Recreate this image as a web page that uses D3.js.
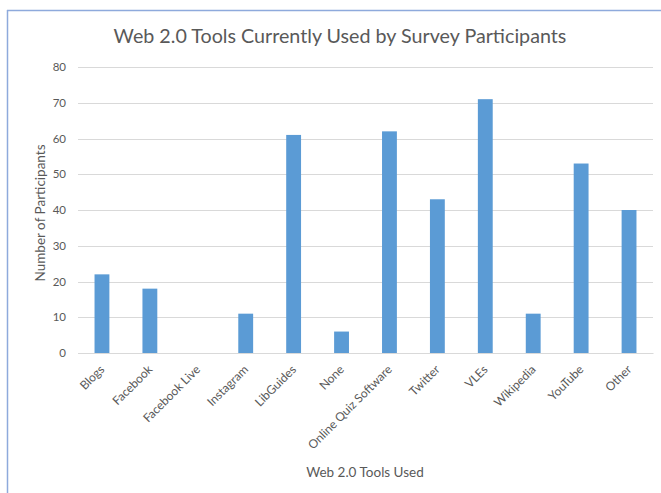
<!DOCTYPE html>
<html>
<head>
<meta charset="utf-8">
<script src="https://cdn.jsdelivr.net/npm/d3@7"></script>
<style>
  body { margin: 0; background: #fff; }
  text { font-family: Lato, "Liberation Sans", sans-serif; fill: #595959; }
</style>
</head>
<body>
<div id="chart"></div>
<script>
var svgWidth = 661;
var svgHeight = 493;

// data
var tools = ["Blogs", "Facebook", "Facebook Live", "Instagram", "LibGuides", "None",
  "Online Quiz Software", "Twitter", "VLEs", "Wikipedia", "YouTube", "Other"];
var participants = [22, 18, 0, 11, 61, 6, 62, 43, 71, 11, 53, 40];
var yTicks = [0, 10, 20, 30, 40, 50, 60, 70, 80];

var margin = { top: 67, right: 8, bottom: 140, left: 78 };
var width = svgWidth - margin.left - margin.right;
var height = svgHeight - margin.top - margin.bottom;

var svg = d3.select("#chart")
  .append("svg")
  .attr("width", svgWidth)
  .attr("height", svgHeight);

// frame lines (top and left of the chart box)
svg.append("line")
  .attr("x1", 7).attr("x2", svgWidth).attr("y1", 10.5).attr("y2", 10.5)
  .attr("stroke", "#8eaadc").attr("stroke-width", 1.5);
svg.append("line")
  .attr("x1", 7.5).attr("x2", 7.5).attr("y1", 10).attr("y2", svgHeight)
  .attr("stroke", "#8eaadc").attr("stroke-width", 1.5);

var chartGroup = svg.append("g")
  .attr("transform", `translate(${margin.left}, ${margin.top})`);

var data = tools.map((t, i) => ({ tool: t, value: participants[i] }));

var x = d3.scaleBand()
  .domain(tools)
  .range([0, width])
  .paddingInner(0.69)
  .paddingOuter(0.345);

var y = d3.scaleLinear()
  .domain([0, 80])
  .range([height, 0]);

// gridlines
chartGroup.append("g")
  .selectAll("line")
  .data(yTicks)
  .enter()
  .append("line")
  .attr("x1", 0)
  .attr("x2", width)
  .attr("y1", d => Math.round(y(d)) + 0.5)
  .attr("y2", d => Math.round(y(d)) + 0.5)
  .attr("stroke", "#d9d9d9")
  .attr("stroke-width", 1);

// y axis labels
var yAxis = chartGroup.append("g")
  .call(d3.axisLeft(y).tickValues(yTicks).tickSize(0).tickPadding(12));
yAxis.select(".domain").remove();
yAxis.selectAll("text")
  .attr("font-size", "11.5px")
  .style("font-family", "Lato, sans-serif")
  .attr("fill", "#595959");

// bars
chartGroup.selectAll("rect")
  .data(data)
  .enter()
  .append("rect")
  .attr("x", d => x(d.tool))
  .attr("y", d => y(d.value))
  .attr("width", x.bandwidth())
  .attr("height", d => height - y(d.value))
  .attr("fill", "#5b9bd5");

// x axis
var xAxis = chartGroup.append("g")
  .attr("transform", `translate(0, ${height})`)
  .call(d3.axisBottom(x).tickSize(0).tickPadding(6));
xAxis.select(".domain").attr("stroke", "#d9d9d9");
xAxis.selectAll("text")
  .attr("font-size", "12px")
  .style("font-family", "Lato, sans-serif")
  .attr("fill", "#595959")
  .attr("text-anchor", "end")
  .attr("dy", "0.35em")
  .attr("transform", "translate(-4, 10) rotate(-45)");

// title
svg.append("text")
  .attr("x", 340)
  .attr("y", 43)
  .attr("text-anchor", "middle")
  .attr("font-size", "19.7px")
  .text("Web 2.0 Tools Currently Used by Survey Participants");

// axis titles
svg.append("text")
  .attr("transform", "translate(45, 213) rotate(-90)")
  .attr("text-anchor", "middle")
  .attr("font-size", "13.5px")
  .text("Number of Participants");

svg.append("text")
  .attr("x", 365)
  .attr("y", 477)
  .attr("text-anchor", "middle")
  .attr("font-size", "13.5px")
  .text("Web 2.0 Tools Used");
</script>
</body>
</html>
